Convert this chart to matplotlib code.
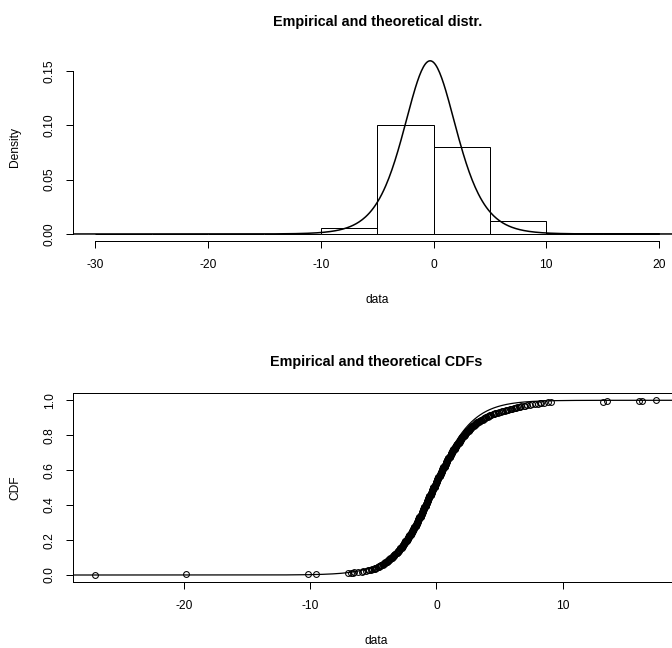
import matplotlib
matplotlib.use("Agg")
import matplotlib.pyplot as plt
import numpy as np

plt.rcParams["font.family"] = ["Liberation Sans", "DejaVu Sans"]

# sample: single outliers/tails and a binned core (0.1 wide cells)
left_tail = [-27.0, -19.8, -10.2, -9.5, -7.0, -6.8, -6.6, -6.5, -6.2, -5.9,
             -5.8, -5.6, -5.4, -5.3, -5.2, -5.1]
core_values = [-4.95, -4.85, -4.75, -4.65, -4.55, -4.45, -4.35, -4.25, -4.15, -4.05,
               -3.95, -3.85, -3.75, -3.65, -3.55, -3.45, -3.35, -3.25, -3.15, -3.05,
               -2.95, -2.85, -2.75, -2.65, -2.55, -2.45, -2.35, -2.25, -2.15, -2.05,
               -1.95, -1.85, -1.75, -1.65, -1.55, -1.45, -1.35, -1.25, -1.15, -1.05,
               -0.95, -0.85, -0.75, -0.65, -0.55, -0.45, -0.35, -0.25, -0.15, -0.05,
               0.05, 0.15, 0.25, 0.35, 0.45, 0.55, 0.65, 0.75, 0.85, 0.95,
               1.05, 1.15, 1.25, 1.35, 1.45, 1.55, 1.65, 1.75, 1.85, 1.95,
               2.05, 2.15, 2.25, 2.35, 2.45, 2.55, 2.65, 2.75, 2.85, 2.95,
               3.05, 3.15, 3.25, 3.35, 3.45, 3.55, 3.65, 3.75, 3.85, 3.95,
               4.05, 4.15, 4.25, 4.35, 4.45, 4.55, 4.65, 4.75, 4.85, 4.95]
core_counts = [1, 2, 2, 2, 2, 2, 2, 2, 2, 3,
               3, 3, 3, 3, 3, 3, 4, 3, 4, 4,
               4, 4, 5, 5, 5, 5, 5, 6, 6, 6,
               6, 6, 6, 7, 7, 7, 7, 7, 7, 8,
               8, 8, 8, 7, 8, 8, 8, 8, 8, 7,
               8, 7, 7, 7, 7, 7, 7, 7, 7, 6,
               6, 6, 6, 6, 6, 5, 5, 5, 5, 5,
               5, 4, 4, 4, 4, 4, 4, 3, 3, 3,
               3, 3, 3, 2, 2, 2, 2, 2, 2, 2,
               2, 2, 2, 1, 1, 2, 1, 1, 1, 1]
right_tail = [5.1, 5.2, 5.3, 5.4, 5.5, 5.6, 5.7, 5.8, 5.9, 6.0, 6.1, 6.2, 6.3, 6.4,
              6.5, 6.6, 6.7, 6.9, 7.0, 7.2, 7.4, 7.6, 7.8, 8.0, 8.2, 8.3, 8.5, 8.8,
              9.1, 13.2, 13.5, 16.0, 16.3, 17.4]
breaks = [-30, -25, -20, -15, -10, -5, 0, 5, 10, 15, 20]

# fitted logistic distribution
loc = -0.3
scale = 1.57

data = np.sort(np.concatenate([left_tail, np.repeat(core_values, core_counts), right_tail]))
n = len(data)


def dlogis(x):
    z = (x - loc) / scale
    return np.exp(-z) / (scale * (1 + np.exp(-z)) ** 2)


def plogis(x):
    return 1 / (1 + np.exp(-(x - loc) / scale))


W, H = 672, 648
fig = plt.figure(figsize=(W / 100, H / 100), dpi=100)


def px_axes(left, top, right, bottom):
    return fig.add_axes([left / W, 1 - bottom / H, (right - left) / W, (bottom - top) / H])


PT = 72 / 100  # points per pixel
fs = 12 * PT
lw = 1 * PT

def style(ax):
    ax.tick_params(direction="out", length=7.3 * PT, width=lw, pad=8, labelsize=fs,
                   colors="black")
    ax.tick_params(axis="y", labelrotation=90, pad=7)
    for s in ax.spines.values():
        s.set_linewidth(lw)


def labels(ax, title, xlab, ylab):
    ax.annotate(title, xy=(0.5, 1), xycoords="axes fraction", xytext=(0, 31.6 * PT),
                textcoords="offset points", ha="center", va="center",
                fontsize=14.4 * PT, fontweight="bold")
    ax.annotate(xlab, xy=(0.5, 0), xycoords="axes fraction", xytext=(0, -59 * PT),
                textcoords="offset points", ha="center", va="center", fontsize=fs)
    ax.annotate(ylab, xy=(0, 0.5), xycoords="axes fraction", xytext=(-57.7 * PT, 0),
                textcoords="offset points", ha="center", va="center", fontsize=fs,
                rotation=90)


# top: histogram + density
ax1 = px_axes(72.7, 53.9, 681.6, 240.9)
ax1.hist(data, bins=breaks, density=True, facecolor="white", edgecolor="black", linewidth=lw)
pad = 0.04 * (breaks[-1] - breaks[0])
x1 = np.linspace(breaks[0] - pad, breaks[-1] + pad, 600)
d1 = dlogis(x1)
ax1.plot(x1, d1, color="black", linewidth=1.1)
ax1.set_xlim(breaks[0] - pad, breaks[-1] + pad)
ymax = d1.max()
ax1.set_ylim(-0.04 * ymax, 1.04 * ymax)
ax1.set_xticks([-30, -20, -10, 0, 10, 20])
ax1.set_xticklabels(["-30", "-20", "-10", "0", "10", "20"])
ax1.set_yticks([0, 0.05, 0.10, 0.15])
ax1.set_yticklabels(["0.00", "0.05", "0.10", "0.15"], va="center")
ax1.spines["top"].set_visible(False)
ax1.spines["right"].set_visible(False)
ax1.spines["left"].set_bounds(0, 0.15)
ax1.spines["bottom"].set_bounds(-30, 20)
style(ax1)
labels(ax1, "Empirical and theoretical distr.", "data", "Density")

# bottom: ECDF + theoretical CDF
ax2 = px_axes(72.9, 393.3, 678.7, 582.0)
lo, hi = data.min(), data.max()
pad2 = 0.04 * (hi - lo)
x2 = np.linspace(lo - pad2, hi + pad2, 600)
ax2.plot(x2, plogis(x2), color="black", linewidth=0.9)
ax2.plot(data, np.arange(1, n + 1) / n, linestyle="none", marker="o", markersize=4.2,
         markerfacecolor="none", markeredgecolor="black", markeredgewidth=0.75)
ax2.set_xlim(lo - pad2, hi + pad2)
ax2.set_ylim(-0.04, 1.04)
ax2.set_xticks([-20, -10, 0, 10])
ax2.set_xticklabels(["-20", "-10", "0", "10"])
ax2.set_yticks([0, 0.2, 0.4, 0.6, 0.8, 1.0])
ax2.set_yticklabels(["0.0", "0.2", "0.4", "0.6", "0.8", "1.0"], va="center")
style(ax2)
labels(ax2, "Empirical and theoretical CDFs", "data", "CDF")

fig.savefig("out.png", dpi=100, facecolor="white")
